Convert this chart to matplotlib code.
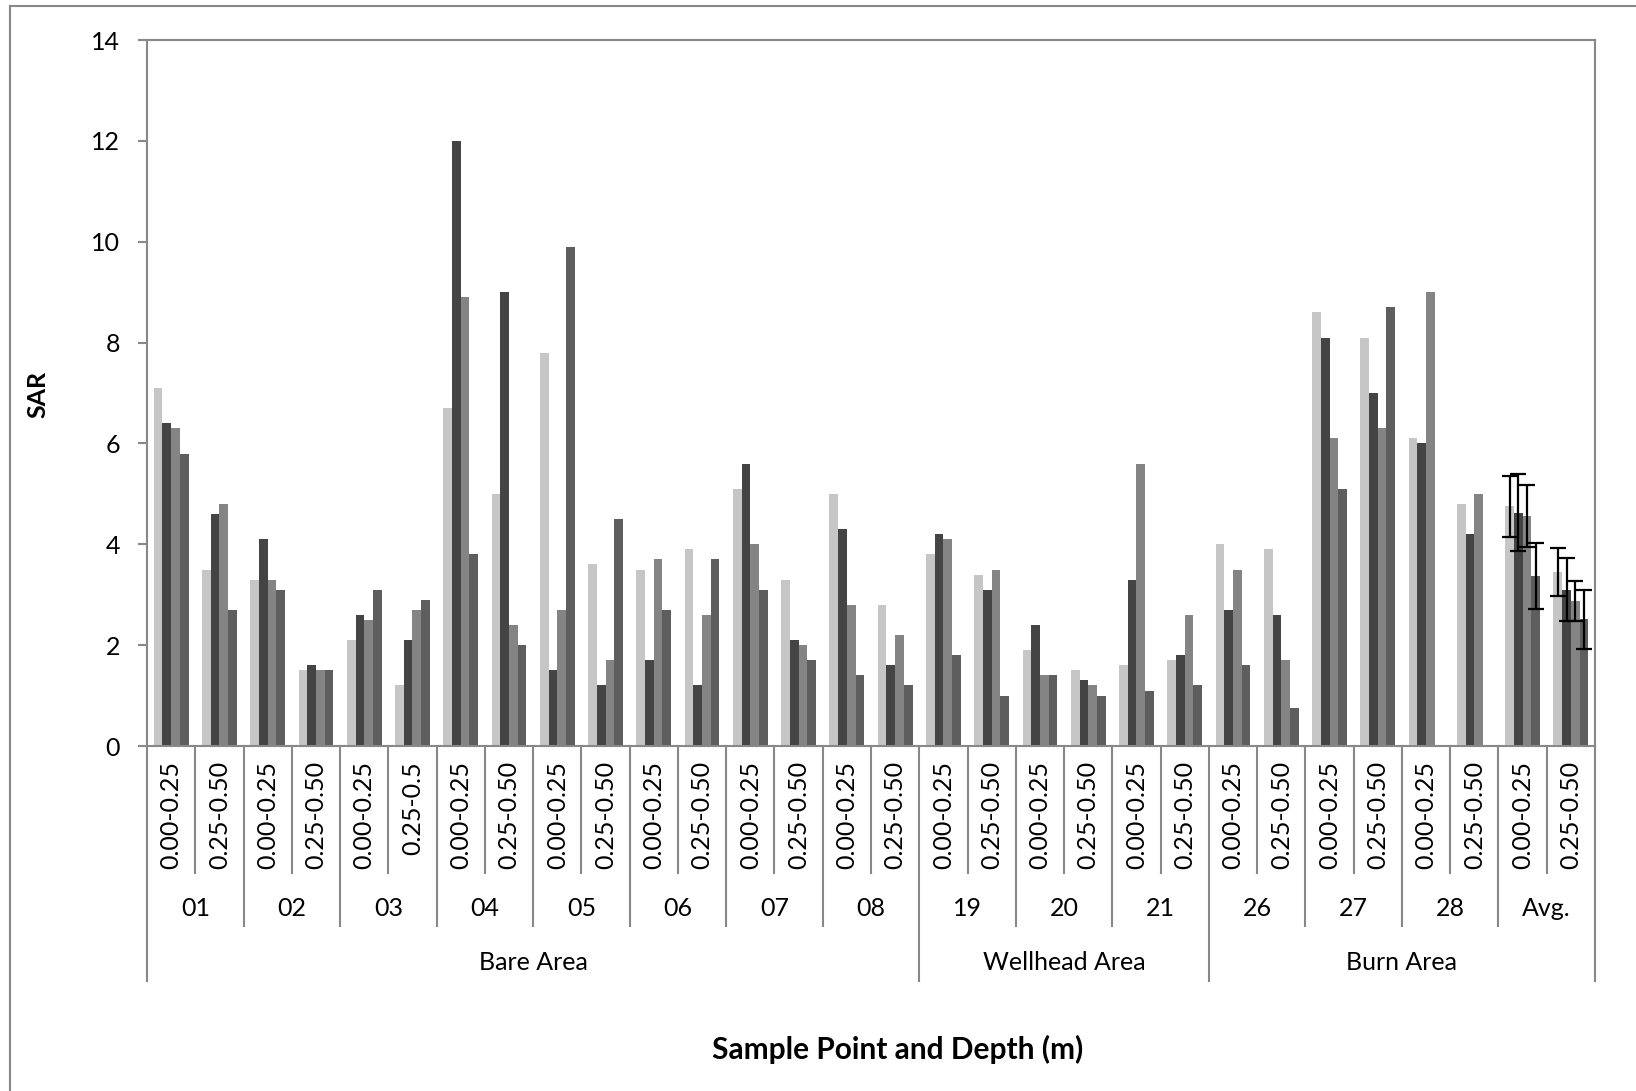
import numpy as np
import matplotlib
matplotlib.use("Agg")
import matplotlib.pyplot as plt
from matplotlib.transforms import blended_transform_factory
from matplotlib.lines import Line2D

plt.rcParams['font.family'] = ['Lato', 'DejaVu Sans']

depths = ['0.00-0.25', '0.25-0.50', '0.00-0.25', '0.25-0.50', '0.00-0.25', '0.25-0.5',
          '0.00-0.25', '0.25-0.50', '0.00-0.25', '0.25-0.50', '0.00-0.25', '0.25-0.50',
          '0.00-0.25', '0.25-0.50', '0.00-0.25', '0.25-0.50', '0.00-0.25', '0.25-0.50',
          '0.00-0.25', '0.25-0.50', '0.00-0.25', '0.25-0.50', '0.00-0.25', '0.25-0.50',
          '0.00-0.25', '0.25-0.50', '0.00-0.25', '0.25-0.50', '0.00-0.25', '0.25-0.50']
points = ['01', '02', '03', '04', '05', '06', '07', '08', '19', '20', '21', '26', '27', '28', 'Avg.']
areas = ['Bare Area', 'Wellhead Area', 'Burn Area']
area_points = [8, 3, 4]

s1 = [7.1, 3.5, 3.3, 1.5, 2.1, 1.2, 6.7, 5.0, 7.8, 3.6, 3.5, 3.9, 5.1, 3.3, 5.0, 2.8,
      3.8, 3.4, 1.9, 1.5, 1.6, 1.7, 4.0, 3.9, 8.6, 8.1, 6.1, 4.8, 4.75, 3.45]
s2 = [6.4, 4.6, 4.1, 1.6, 2.6, 2.1, 12.0, 9.0, 1.5, 1.2, 1.7, 1.2, 5.6, 2.1, 4.3, 1.6,
      4.2, 3.1, 2.4, 1.3, 3.3, 1.8, 2.7, 2.6, 8.1, 7.0, 6.0, 4.2, 4.63, 3.1]
s3 = [6.3, 4.8, 3.3, 1.5, 2.5, 2.7, 8.9, 2.4, 2.7, 1.7, 3.7, 2.6, 4.0, 2.0, 2.8, 2.2,
      4.1, 3.5, 1.4, 1.2, 5.6, 2.6, 3.5, 1.7, 6.1, 6.3, 9.0, 5.0, 4.56, 2.87]
s4 = [5.8, 2.7, 3.1, 1.5, 3.1, 2.9, 3.8, 2.0, 9.9, 4.5, 2.7, 3.7, 3.1, 1.7, 1.4, 1.2,
      1.8, 1.0, 1.4, 1.0, 1.1, 1.2, 1.6, 0.75, 5.1, 8.7, np.nan, np.nan, 3.37, 2.51]
# error bars for the two Avg. categories
e1 = [0.60, 0.48]
e2 = [0.76, 0.63]
e3 = [0.62, 0.40]
e4 = [0.65, 0.58]

series = [s1, s2, s3, s4]
errors = [e1, e2, e3, e4]
colors = ['#C6C6C6', '#444444', '#848484', '#5E5E5E']

W, H = 1636, 1091
fig = plt.figure(figsize=(W / 100, H / 100), dpi=100)
ax = fig.add_axes([147 / W, 1 - 746 / H, (1595 - 147) / W, (746 - 40) / H])

FS = 18
n = len(depths)
x = np.arange(n)
bw = 0.18
offs = [-1.5 * bw, -0.5 * bw, 0.5 * bw, 1.5 * bw]
for s, c, o, e in zip(series, colors, offs, errors):
    ax.bar(x + o, s, width=bw, color=c, edgecolor='none', zorder=2)
    xe = x[-2:] + o
    ax.errorbar(xe, np.array(s[-2:]), yerr=e, fmt='none', ecolor='black',
                elinewidth=1.6, capsize=6, capthick=1.6, zorder=3)

ax.set_xlim(-0.5, n - 0.5)
ax.set_ylim(0, 14)
ax.set_yticks(np.arange(0, 15, 2))
ax.set_xticks([])
spine_c = '#888888'
for sp in ax.spines.values():
    sp.set_color(spine_c)
    sp.set_linewidth(1.5)
ax.tick_params(axis='y', direction='out', length=6.5, width=1.5, color=spine_c,
               labelsize=FS, pad=13)
ax.set_ylabel('SAR', fontsize=FS, fontweight='bold')
ax.yaxis.set_label_coords(49 / W, 1 - 394 / H, transform=fig.transFigure)

tr = blended_transform_factory(ax.transData, fig.transFigure)
fy = lambda py: 1 - py / H

# depth labels and separators
for i, d in enumerate(depths):
    ax.text(i, fy(761), d, rotation=90, ha='center', va='top', fontsize=FS,
            transform=tr, clip_on=False)
y_axis = fy(746)
cum = np.cumsum(area_points) * 2
for b in range(n + 1):
    xb = b - 0.5
    if b == 0 or b == n or b in cum:
        yb = 981
    elif b % 2 == 0:
        yb = 926
    else:
        yb = 873
    fig.add_artist(Line2D([xb, xb], [y_axis, fy(yb)], transform=tr, color=spine_c,
                          linewidth=1.5))

# sample point labels
for j, p in enumerate(points):
    ax.text(2 * j + 0.5, fy(909), p, ha='center', va='center', fontsize=FS,
            transform=tr, clip_on=False)

# area labels
start = 0
for a, k in zip(areas, area_points):
    ax.text(start * 2 + k - 0.5, fy(963), a, ha='center', va='center', fontsize=FS,
            transform=tr, clip_on=False)
    start += k

fig.text(898 / W, fy(1049), 'Sample Point and Depth (m)', ha='center',
         va='center', fontsize=21.5, fontweight='bold')

# outer chart border
fig.add_artist(Line2D([9.5 / W, 9.5 / W], [0, fy(6)], transform=fig.transFigure,
                      color=spine_c, linewidth=1.5))
fig.add_artist(Line2D([9.5 / W, 1], [fy(6), fy(6)], transform=fig.transFigure,
                      color=spine_c, linewidth=1.5))

fig.savefig('out.png', dpi=100, facecolor='white')
